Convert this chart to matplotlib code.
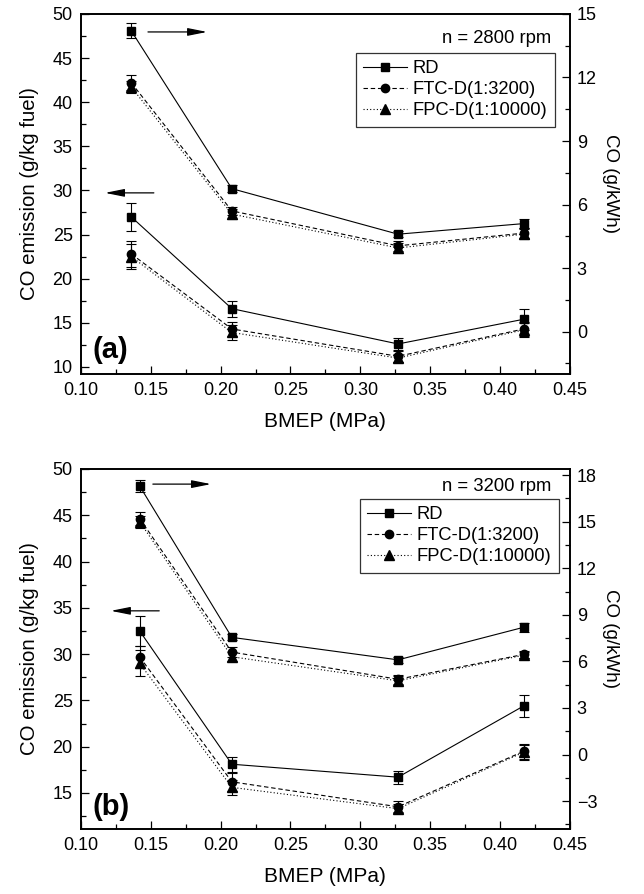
import matplotlib
matplotlib.use('Agg')
import matplotlib.pyplot as plt
from matplotlib.ticker import MultipleLocator

plt.rcParams['font.family'] = ['Liberation Sans', 'DejaVu Sans']
plt.rcParams['font.size'] = 13

labels = ['RD', 'FTC-D(1:3200)', 'FPC-D(1:10000)']

### Panel (a), n = 2800 rpm ###
bmep_a = [0.136, 0.208, 0.327, 0.417]
emis_a = [[27.0, 16.6, 12.6, 15.4],
          [22.8, 14.3, 11.2, 14.3],
          [22.5, 13.9, 11.0, 14.2]]
emis_err_a = [[1.6, 0.9, 0.7, 1.2],
              [1.5, 0.8, 0.6, 0.8],
              [1.4, 0.8, 0.5, 0.8]]
kwh_a = [[14.2, 6.75, 4.6, 5.1],
         [11.75, 5.7, 4.05, 4.65],
         [11.55, 5.55, 3.95, 4.6]]
kwh_err_a = [[0.35, 0.15, 0.15, 0.2],
             [0.35, 0.2, 0.25, 0.25],
             [0.3, 0.25, 0.25, 0.25]]

### Panel (b), n = 3200 rpm ###
bmep_b = [0.142, 0.208, 0.327, 0.417]
emis_b = [[32.5, 18.1, 16.7, 24.4],
          [29.7, 16.2, 13.5, 19.5],
          [29.0, 15.6, 13.3, 19.4]]
emis_err_b = [[1.6, 0.8, 0.7, 1.2],
              [1.2, 1.0, 0.6, 0.8],
              [1.4, 0.8, 0.5, 0.8]]
kwh_b = [[17.3, 7.55, 6.1, 8.2],
         [15.2, 6.6, 4.85, 6.45],
         [15.0, 6.3, 4.75, 6.4]]
kwh_err_b = [[0.4, 0.2, 0.2, 0.3],
             [0.4, 0.3, 0.3, 0.2],
             [0.4, 0.3, 0.3, 0.2]]

markers = ['s', 'o', '^']
msizes = [5.5, 6, 6.5]
styles = ['-', (0, (4, 2.5)), (0, (1, 2))]


def draw_panel(rect, x, emis, emis_err, kwh, kwh_err, left_lim, right_lim,
               speed, tag, arrows, leg_anchor, speed_pos):
    ax = fig.add_axes(rect)
    ax2 = ax.twinx()
    handles = []
    for i in range(3):
        h = ax.errorbar(x, emis[i], yerr=emis_err[i], color='k', marker=markers[i],
                        markersize=msizes[i], linestyle=styles[i], linewidth=0.8,
                        elinewidth=0.8, capsize=3.5, capthick=0.8, label=labels[i])
        ax2.errorbar(x, kwh[i], yerr=kwh_err[i], color='k', marker=markers[i],
                     markersize=msizes[i], linestyle=styles[i], linewidth=0.8,
                     elinewidth=0.8, capsize=3.5, capthick=0.8)
        handles.append(h[0])

    ax.set_xlim(0.10, 0.45)
    ax.set_ylim(*left_lim)
    ax2.set_ylim(*right_lim)
    ax.xaxis.set_major_locator(MultipleLocator(0.05))
    ax.xaxis.set_minor_locator(MultipleLocator(0.025))
    ax.xaxis.set_major_formatter(plt.FormatStrFormatter('%.2f'))
    ax.yaxis.set_major_locator(MultipleLocator(5))
    ax.yaxis.set_minor_locator(MultipleLocator(2.5))
    ax2.yaxis.set_major_locator(MultipleLocator(3))
    ax2.yaxis.set_minor_locator(MultipleLocator(1.5))

    ax.tick_params(which='both', direction='in', top=False, right=False, pad=6)
    ax.tick_params(which='major', length=6, width=0.9)
    ax.tick_params(which='minor', length=3.5, width=0.9)
    ax2.tick_params(which='both', direction='in', pad=5)
    ax2.tick_params(which='major', length=6, width=0.9)
    ax2.tick_params(which='minor', length=3.5, width=0.9)
    for a in (ax, ax2):
        for s in a.spines.values():
            s.set_linewidth(1.2)

    ax.set_xlabel('BMEP (MPa)', fontsize=15, labelpad=9)
    ax.set_ylabel('CO emission (g/kg fuel)', fontsize=14.7, labelpad=10)
    ax2.set_ylabel('CO (g/kWh)', rotation=270, fontsize=13.5, labelpad=20)
    ax2.yaxis.set_label_coords(1.1, 0.53)

    leg = ax2.legend(handles, labels, loc='upper right', bbox_to_anchor=leg_anchor,
                     borderaxespad=0, fancybox=False, edgecolor='k',
                     handlelength=2.4, handletextpad=0.3, labelspacing=0.22,
                     borderpad=0.4, fontsize=13.2)
    leg.get_frame().set_linewidth(0.9)

    ax2.text(speed_pos[0], speed_pos[1], speed, transform=ax.transAxes,
             ha='right', va='center', fontsize=13.3)
    ax2.text(0.061, tag[1], tag[0], transform=ax.transAxes, ha='center',
             va='center', fontsize=21, fontweight='bold')

    for (x0, x1, y) in arrows:
        ax2.annotate('', xy=(x1, y), xytext=(x0, y), xycoords='axes fraction',
                     arrowprops=dict(arrowstyle='-|>,head_length=0.9,head_width=0.18',
                                     color='k', lw=0.9, shrinkA=0, shrinkB=0))
    return ax


fig = plt.figure(figsize=(6.44, 8.94), dpi=100)

draw_panel([0.1258, 0.5817, 0.759, 0.4027], bmep_a, emis_a, emis_err_a,
           kwh_a, kwh_err_a, (9.2, 50), (-2, 15), 'n = 2800 rpm',
           ('(a)', 0.067), [(0.137, 0.258, 0.95), (0.149, 0.049, 0.503)],
           (0.969, 0.892), (0.963, 0.933))

draw_panel([0.1258, 0.0727, 0.759, 0.4027], bmep_b, emis_b, emis_err_b,
           kwh_b, kwh_err_b, (11.1, 50), (-4.8, 18.4), 'n = 3200 rpm',
           ('(b)', 0.061), [(0.147, 0.266, 0.958), (0.16, 0.061, 0.606)],
           (0.978, 0.917), (0.963, 0.95))

fig.savefig('out.png', dpi=100)
